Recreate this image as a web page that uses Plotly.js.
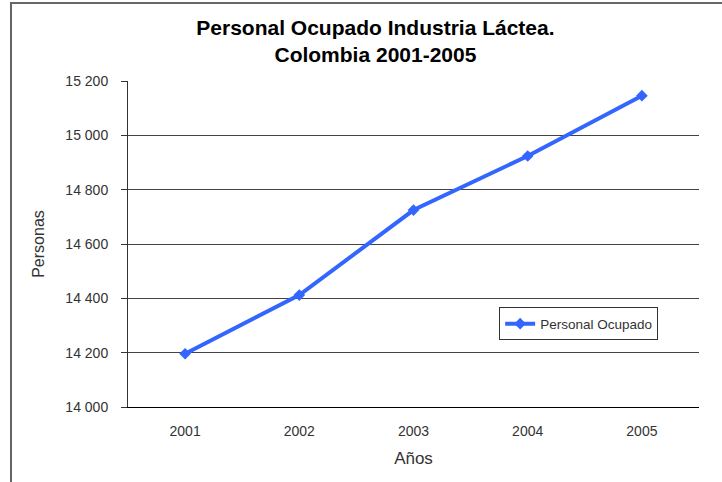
<!DOCTYPE html>
<html>
<head>
<meta charset="utf-8">
<script src="https://cdn.plot.ly/plotly-3.0.1.min.js"></script>
<style>html,body{margin:0;padding:0;background:#fff;}#chart{width:722px;height:482px;}</style>
</head>
<body>
<div id="chart"></div>
<script>
const years = ['2001', '2002', '2003', '2004', '2005'];
const personal = [14196, 14412, 14725, 14924, 15146];
const yTickVals = [14000, 14200, 14400, 14600, 14800, 15000, 15200];
const yTickText = ['14 000', '14 200', '14 400', '14 600', '14 800', '15 000', '15 200'];
const seriesName = 'Personal Ocupado';

const trace = {
  x: years,
  y: personal,
  type: 'scatter',
  mode: 'lines+markers',
  name: seriesName,
  line: {color: '#3366FF', width: 4},
  marker: {symbol: 'diamond', size: 9, color: '#3366FF'}
};

const layout = {
  width: 722, height: 482,
  margin: {l: 128, r: 23, t: 81, b: 75},
  paper_bgcolor: '#ffffff',
  plot_bgcolor: '#ffffff',
  font: {family: 'Arial, Liberation Sans, sans-serif', color: '#333'},
  title: {
    text: '<b>Personal Ocupado Industria Láctea.<br>Colombia 2001-2005</b>',
    x: 0.52, xref: 'container', xanchor: 'center',
    y: 0.928, yref: 'container', yanchor: 'top',
    font: {size: 21, color: '#000', family: 'Arial, Liberation Sans, sans-serif'}
  },
  xaxis: {
    type: 'category',
    range: [-0.5, 4.5],
    showgrid: false,
    showline: true, linecolor: '#000', linewidth: 1,
    ticks: '',
    ticklabelstandoff: 11,
    tickfont: {size: 14, color: '#333'},
    title: {text: 'Años', font: {size: 17, color: '#333'}, standoff: 14},
    zeroline: false
  },
  yaxis: {
    range: [14000, 15200],
    tickvals: yTickVals,
    ticktext: yTickText,
    showgrid: true, gridcolor: '#444', gridwidth: 1,
    showline: true, linecolor: '#333', linewidth: 1,
    ticks: 'outside', ticklen: 6, tickcolor: '#333',
    ticklabelstandoff: 10,
    tickfont: {size: 14, color: '#333'},
    title: {text: 'Personas', font: {size: 16, color: '#333'}, standoff: 16},
    zeroline: false
  },
  showlegend: true,
  legend: {
    x: 0.65, xanchor: 'left',
    y: 0.255, yanchor: 'middle',
    bgcolor: '#fff', bordercolor: '#333', borderwidth: 1,
    font: {size: 13.5, color: '#333'},
    itemwidth: 30
  },
  shapes: [
    {type: 'rect', xref: 'paper', yref: 'paper',
     x0: (11 - 128) / 571, x1: 1.1, y0: -0.4, y1: (407 - 3) / 326,
     line: {color: '#666', width: 2}, fillcolor: 'rgba(0,0,0,0)', layer: 'below'}
  ]
};

Plotly.newPlot('chart', [trace], layout, {displayModeBar: false, staticPlot: true});
</script>
</body>
</html>
